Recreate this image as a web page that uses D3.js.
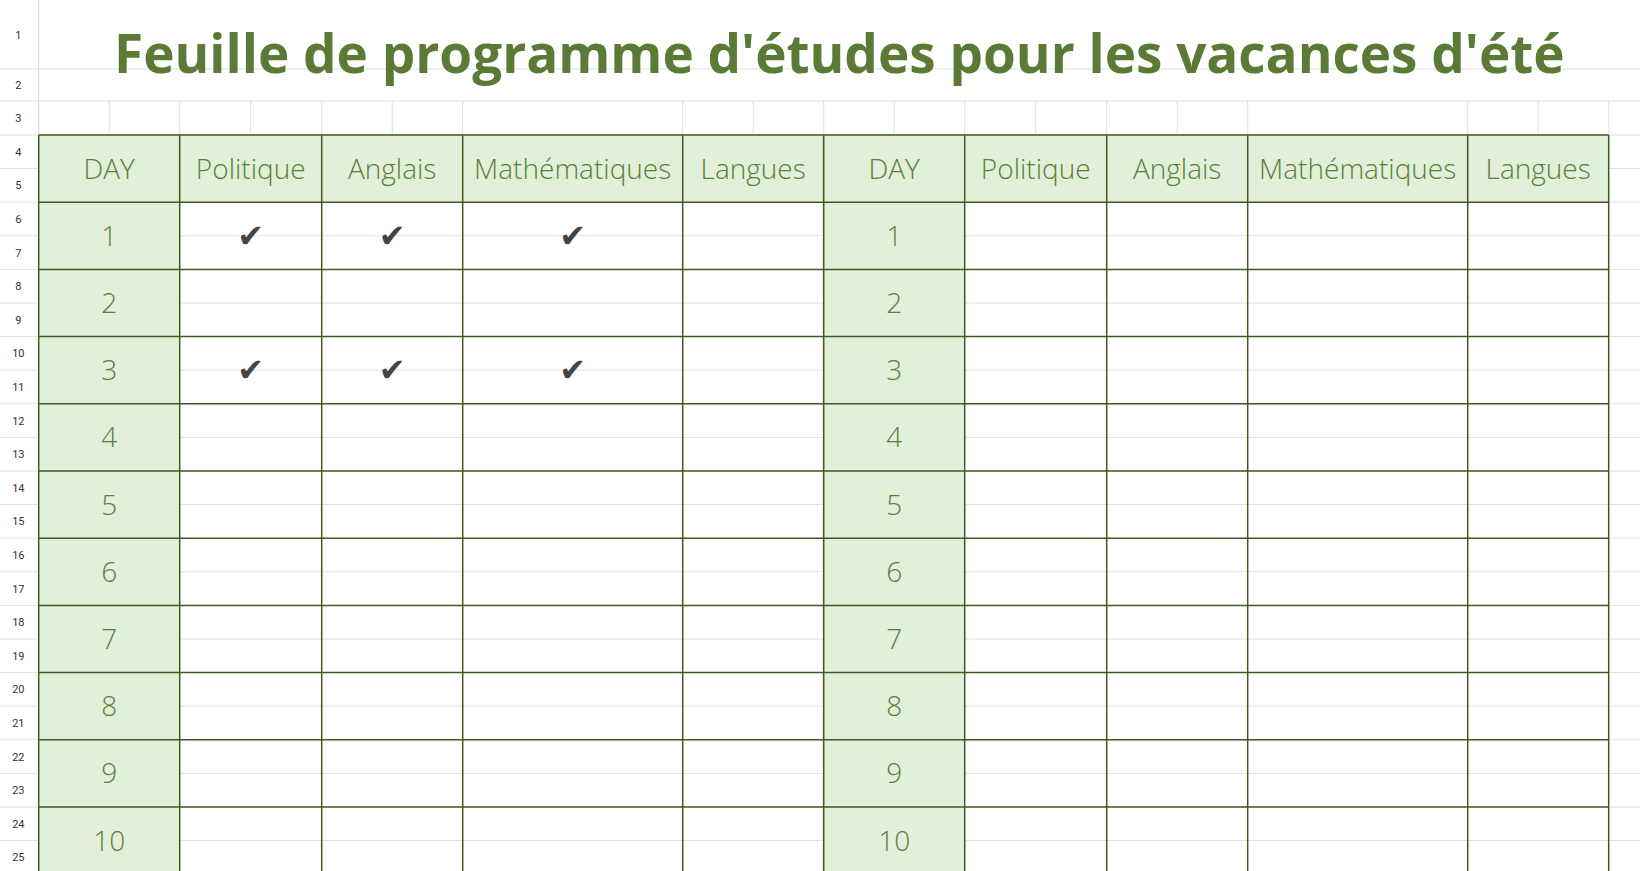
<!DOCTYPE html>
<html>
<head>
<meta charset="utf-8">
<script src="https://cdn.jsdelivr.net/npm/d3@7"></script>
<style>
  body { margin: 0; background: #fff; }
  svg { display: block; font-family: "Open Sans", "Noto Sans", sans-serif; }
</style>
</head>
<body>
<div id="chart"></div>
<script>
// Data
const title = "Feuille de programme d'études pour les vacances d'été";
const subjects = ["Politique", "Anglais", "Mathématiques", "Langues"];
const days = [1, 2, 3, 4, 5, 6, 7, 8, 9, 10];
const leftChecks = [
  { day: 1, subject: "Politique" }, { day: 1, subject: "Anglais" }, { day: 1, subject: "Mathématiques" },
  { day: 3, subject: "Politique" }, { day: 3, subject: "Anglais" }, { day: 3, subject: "Mathématiques" }
];
const rightChecks = [];

// Layout
const W = 1640, H = 871;
const gutter = 38.7;
const colWidths = [141, 142, 141, 220, 141]; // DAY + 4 subjects
const headerTop = 135, rowH = 67.2;
const border = "#3e5a22", fillGreen = "#e2efd9", textGreen = "#5b7f3b", grid = "#e0e0e0";

let svg = d3.select("#chart").append("svg").attr("width", W).attr("height", H);

// row-number gutter
let sheetRows = [{ n: 1, y0: 0, y1: 69 }, { n: 2, y0: 69, y1: 101 }, { n: 3, y0: 101, y1: headerTop }];
for (let n = 4; n <= 26; n++) {
  let y0 = headerTop + (n - 4) * rowH / 2;
  sheetRows.push({ n: n, y0: y0, y1: y0 + rowH / 2 });
}
svg.selectAll(".rowline").data(sheetRows).enter().append("line")
  .attr("x1", 0).attr("x2", W).attr("y1", d => d.y1).attr("y2", d => d.y1)
  .attr("stroke", grid).attr("stroke-width", 1);
svg.append("line").attr("x1", gutter).attr("x2", gutter).attr("y1", 0).attr("y2", H)
  .attr("stroke", "#d0d0d0");
svg.append("rect").attr("x", 0).attr("y", 0).attr("width", gutter - 0.5).attr("height", H).attr("fill", "#fff");
svg.selectAll(".rowline2").data(sheetRows).enter().append("line")
  .attr("x1", 0).attr("x2", gutter).attr("y1", d => d.y1).attr("y2", d => d.y1)
  .attr("stroke", grid);
svg.selectAll(".rownum").data(sheetRows.filter(d => d.n <= 25)).enter().append("text")
  .attr("x", gutter / 2 - 1).attr("y", d => (d.y0 + d.y1) / 2 + 4)
  .attr("text-anchor", "middle").attr("font-size", 11).attr("fill", "#333")
  .attr("font-family", "Roboto, sans-serif").text(d => d.n);

// column positions for both tables
let edges = [gutter];
[0, 1].forEach(() => colWidths.forEach(w => edges.push(edges[edges.length - 1] + w)));

// row-3 light gridlines (sheet columns)
let gx = [];
for (let i = 0; i < edges.length - 1; i++) {
  gx.push(edges[i]);
  if (i % 5 !== 3) gx.push((edges[i] + edges[i + 1]) / 2);
}
gx.push(edges[edges.length - 1]);
svg.selectAll(".gx").data(gx).enter().append("line")
  .attr("x1", d => d).attr("x2", d => d).attr("y1", 101).attr("y2", headerTop)
  .attr("stroke", grid);

// title
let t = svg.append("text").attr("x", (gutter + W) / 2).attr("y", 73)
  .attr("text-anchor", "middle").attr("font-weight", 700).attr("font-size", 60)
  .attr("fill", "#5a7a35").attr("font-family", "'Open Sans', sans-serif").text(title);
let tl = t.node().getComputedTextLength();
t.attr("font-size", 60 * 1451 / tl);

let yScale = d3.scaleBand().domain(["head"].concat(days)).range([headerTop, headerTop + rowH * 11]);

function drawTable(offset, checks) {
  let cols = ["DAY"].concat(subjects);
  let x = i => edges[offset + i];
  let g = svg.append("g");
  // header
  g.append("rect").attr("x", x(0)).attr("y", yScale("head")).attr("width", x(5) - x(0))
    .attr("height", yScale.bandwidth()).attr("fill", fillGreen);
  g.selectAll(".dayfill").data(days).enter().append("rect")
    .attr("x", x(0)).attr("y", d => yScale(d)).attr("width", x(1) - x(0))
    .attr("height", yScale.bandwidth()).attr("fill", fillGreen);
  g.selectAll(".htext").data(cols).enter().append("text")
    .attr("x", (d, i) => (x(i) + x(i + 1)) / 2).attr("y", yScale("head") + yScale.bandwidth() / 2 + 10)
    .attr("text-anchor", "middle").attr("font-size", 28).attr("font-weight", 300)
    .attr("fill", textGreen).text(d => d);
  g.selectAll(".dtext").data(days).enter().append("text")
    .attr("x", (x(0) + x(1)) / 2).attr("y", d => yScale(d) + yScale.bandwidth() / 2 + 10)
    .attr("text-anchor", "middle").attr("font-size", 28).attr("font-weight", 300)
    .attr("fill", textGreen).text(d => d);
  g.selectAll(".check").data(checks).enter().append("text")
    .attr("x", d => { let i = cols.indexOf(d.subject); return (x(i) + x(i + 1)) / 2; })
    .attr("y", d => yScale(d.day) + yScale.bandwidth() / 2 + 11)
    .attr("text-anchor", "middle").attr("font-size", 32).attr("fill", "#444")
    .attr("font-family", "DejaVu Sans, sans-serif").text("✔");
  // borders
  let ys = yScale.domain().map(d => yScale(d));
  g.selectAll(".hl").data(ys).enter().append("line")
    .attr("x1", x(0)).attr("x2", x(5)).attr("y1", d => d).attr("y2", d => d)
    .attr("stroke", border).attr("stroke-width", 1.5);
  g.selectAll(".vl").data(d3.range(6)).enter().append("line")
    .attr("x1", i => x(i)).attr("x2", i => x(i)).attr("y1", headerTop).attr("y2", H)
    .attr("stroke", border).attr("stroke-width", 1.5);
}
drawTable(0, leftChecks);
drawTable(5, rightChecks);
</script>
</body>
</html>
